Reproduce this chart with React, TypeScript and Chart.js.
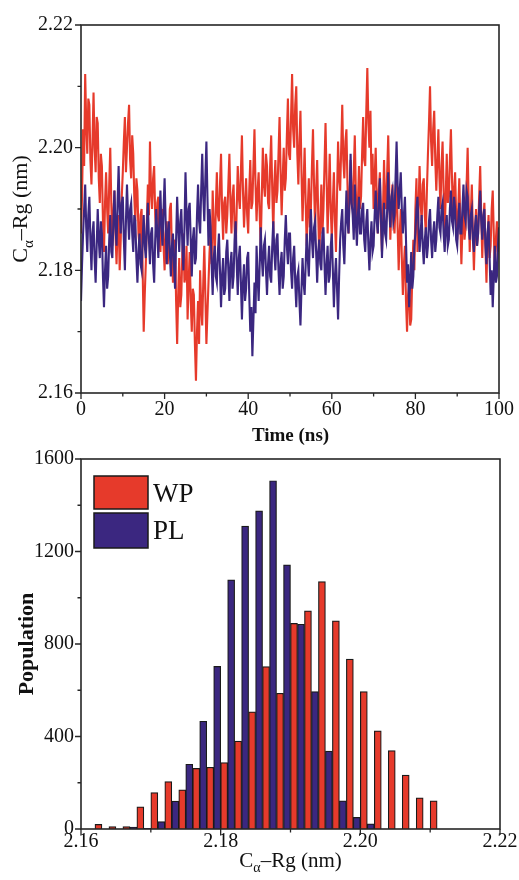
import React, { useEffect, useRef } from 'react';
import { Chart, registerables } from 'chart.js';

Chart.register(...registerables);

const FONT = '"Liberation Serif", "Times New Roman", serif';
const RED = '#e63a2b';
const BLUE = '#3b2780';
const INK = '#111111';

// ---------- Top chart: Cα–Rg vs time (sampled every 0.25 ns, 0..100 ns) ----------
const wpRg = [
  2.186, 2.192, 2.203, 2.197, 2.212, 2.204, 2.199, 2.208, 2.207, 2.198, 2.194, 2.201, 2.209, 2.200, 2.196, 2.205, 2.204, 2.195, 2.191, 2.199,
  2.197, 2.188, 2.183, 2.191, 2.196, 2.190, 2.186, 2.194, 2.200, 2.191, 2.184, 2.189, 2.193, 2.186, 2.181, 2.187, 2.189, 2.180, 2.185, 2.192,
  2.196, 2.201, 2.205, 2.196, 2.200, 2.204, 2.207, 2.198, 2.195, 2.202, 2.199, 2.192, 2.188, 2.195, 2.193, 2.186, 2.184, 2.189, 2.190, 2.180,
  2.170, 2.176, 2.181, 2.188, 2.194, 2.189, 2.201, 2.193, 2.190, 2.195, 2.197, 2.189, 2.186, 2.191, 2.192, 2.185, 2.183, 2.189, 2.190, 2.184,
  2.180, 2.186, 2.188, 2.181, 2.184, 2.190, 2.191, 2.183, 2.178, 2.184, 2.185, 2.175, 2.168, 2.176, 2.182, 2.174, 2.176, 2.183, 2.186, 2.178,
  2.179, 2.184, 2.172, 2.178, 2.183, 2.175, 2.170, 2.177, 2.176, 2.168, 2.162, 2.170, 2.175, 2.168, 2.180, 2.174, 2.171, 2.178, 2.184, 2.176,
  2.168, 2.173, 2.178, 2.183, 2.186, 2.181, 2.193, 2.187, 2.182, 2.190, 2.196, 2.189, 2.188, 2.194, 2.199, 2.190, 2.185, 2.191, 2.192, 2.186,
  2.189, 2.194, 2.199, 2.191, 2.186, 2.192, 2.194, 2.187, 2.183, 2.190, 2.197, 2.192, 2.190, 2.196, 2.202, 2.193, 2.187, 2.191, 2.195, 2.189,
  2.186, 2.193, 2.198, 2.190, 2.191, 2.197, 2.203, 2.194, 2.188, 2.193, 2.196, 2.189, 2.184, 2.192, 2.200, 2.194, 2.192, 2.199, 2.197, 2.191,
  2.190, 2.197, 2.202, 2.193, 2.186, 2.194, 2.198, 2.191, 2.193, 2.199, 2.205, 2.196, 2.189, 2.195, 2.200, 2.193, 2.195, 2.202, 2.208, 2.199,
  2.198, 2.205, 2.212, 2.203, 2.200, 2.207, 2.210, 2.199, 2.194, 2.201, 2.206, 2.196, 2.188, 2.194, 2.200, 2.191, 2.184, 2.190, 2.195, 2.187,
  2.190, 2.197, 2.203, 2.194, 2.187, 2.193, 2.198, 2.189, 2.182, 2.188, 2.194, 2.186, 2.190, 2.197, 2.204, 2.195, 2.186, 2.192, 2.199, 2.190,
  2.185, 2.191, 2.196, 2.188, 2.183, 2.192, 2.201, 2.195, 2.193, 2.200, 2.207, 2.198, 2.195, 2.201, 2.203, 2.194, 2.186, 2.192, 2.198, 2.191,
  2.190, 2.196, 2.202, 2.193, 2.186, 2.191, 2.197, 2.190, 2.192, 2.199, 2.205, 2.198, 2.197, 2.206, 2.213, 2.204, 2.200, 2.206, 2.194, 2.199,
  2.190, 2.195, 2.200, 2.192, 2.186, 2.193, 2.196, 2.188, 2.183, 2.190, 2.198, 2.191, 2.190, 2.196, 2.202, 2.193, 2.185, 2.190, 2.194, 2.188,
  2.186, 2.191, 2.195, 2.187, 2.180, 2.186, 2.190, 2.182, 2.176, 2.181, 2.184, 2.175, 2.170, 2.176, 2.178, 2.171, 2.172, 2.179, 2.185, 2.180,
  2.190, 2.195, 2.183, 2.190, 2.197, 2.191, 2.188, 2.194, 2.195, 2.189, 2.186, 2.193, 2.199, 2.204, 2.210, 2.201, 2.197, 2.203, 2.206, 2.198,
  2.193, 2.198, 2.203, 2.195, 2.190, 2.197, 2.201, 2.193, 2.186, 2.192, 2.199, 2.191, 2.192, 2.198, 2.203, 2.195, 2.188, 2.193, 2.196, 2.189,
  2.185, 2.190, 2.195, 2.188, 2.181, 2.187, 2.192, 2.185, 2.187, 2.194, 2.200, 2.191, 2.183, 2.189, 2.194, 2.186, 2.180, 2.186, 2.190, 2.184,
  2.186, 2.192, 2.197, 2.189, 2.182, 2.188, 2.191, 2.184, 2.178, 2.185, 2.189, 2.182, 2.184, 2.190, 2.193, 2.186, 2.180, 2.185, 2.188, 2.183,
  2.187,
];

const plRg = [
  2.175, 2.181, 2.186, 2.190, 2.194, 2.187, 2.183, 2.189, 2.192, 2.185, 2.180, 2.186, 2.188, 2.182, 2.178, 2.184, 2.190, 2.185, 2.182, 2.188,
  2.186, 2.179, 2.174, 2.180, 2.184, 2.177, 2.179, 2.185, 2.189, 2.183, 2.182, 2.188, 2.193, 2.187, 2.184, 2.191, 2.197, 2.190, 2.186, 2.191,
  2.192, 2.185, 2.180, 2.188, 2.194, 2.189, 2.185, 2.190, 2.191, 2.186, 2.183, 2.189, 2.188, 2.182, 2.178, 2.183, 2.186, 2.181, 2.180, 2.185,
  2.189, 2.184, 2.182, 2.187, 2.191, 2.185, 2.181, 2.186, 2.187, 2.181, 2.178, 2.185, 2.190, 2.186, 2.182, 2.188, 2.193, 2.187, 2.184, 2.190,
  2.195, 2.188, 2.181, 2.186, 2.188, 2.183, 2.179, 2.184, 2.186, 2.181, 2.177, 2.185, 2.192, 2.187, 2.183, 2.188, 2.190, 2.184, 2.180, 2.187,
  2.196, 2.189, 2.184, 2.190, 2.191, 2.185, 2.179, 2.185, 2.187, 2.181, 2.182, 2.189, 2.194, 2.188, 2.186, 2.193, 2.199, 2.192, 2.188, 2.195,
  2.201, 2.192, 2.184, 2.190, 2.187, 2.181, 2.176, 2.182, 2.184, 2.179, 2.178, 2.183, 2.186, 2.180, 2.174, 2.179, 2.182, 2.176, 2.177, 2.183,
  2.185, 2.180, 2.175, 2.181, 2.183, 2.177, 2.179, 2.185, 2.188, 2.181, 2.176, 2.182, 2.184, 2.178, 2.172, 2.178, 2.181, 2.175, 2.177, 2.182,
  2.183, 2.176, 2.170, 2.174, 2.166, 2.172, 2.178, 2.173, 2.184, 2.179, 2.175, 2.181, 2.187, 2.182, 2.179, 2.184, 2.185, 2.180, 2.176, 2.181,
  2.184, 2.179, 2.178, 2.184, 2.188, 2.183, 2.180, 2.185, 2.186, 2.180, 2.176, 2.181, 2.183, 2.177, 2.179, 2.185, 2.189, 2.184, 2.181, 2.186,
  2.186, 2.180, 2.177, 2.182, 2.184, 2.178, 2.174, 2.179, 2.180, 2.175, 2.171, 2.177, 2.182, 2.178, 2.176, 2.181, 2.186, 2.182, 2.179, 2.185,
  2.190, 2.185, 2.182, 2.187, 2.188, 2.183, 2.178, 2.183, 2.185, 2.181, 2.180, 2.186, 2.187, 2.181, 2.176, 2.181, 2.184, 2.178, 2.179, 2.184,
  2.186, 2.180, 2.174, 2.179, 2.182, 2.177, 2.172, 2.179, 2.185, 2.188, 2.190, 2.184, 2.181, 2.187, 2.193, 2.188, 2.186, 2.192, 2.199, 2.191,
  2.189, 2.185, 2.194, 2.188, 2.184, 2.189, 2.192, 2.186, 2.186, 2.190, 2.191, 2.185, 2.183, 2.188, 2.190, 2.184, 2.180, 2.185, 2.188, 2.183,
  2.184, 2.189, 2.193, 2.188, 2.186, 2.191, 2.195, 2.189, 2.182, 2.187, 2.191, 2.186, 2.185, 2.190, 2.196, 2.190, 2.187, 2.192, 2.193, 2.188,
  2.189, 2.195, 2.201, 2.194, 2.190, 2.193, 2.196, 2.190, 2.186, 2.189, 2.192, 2.185, 2.178, 2.181, 2.174, 2.178, 2.183, 2.177, 2.179, 2.184,
  2.186, 2.190, 2.192, 2.187, 2.183, 2.186, 2.189, 2.184, 2.181, 2.185, 2.187, 2.182, 2.184, 2.188, 2.190, 2.185, 2.182, 2.186, 2.188, 2.183,
  2.185, 2.189, 2.192, 2.187, 2.186, 2.190, 2.191, 2.186, 2.183, 2.187, 2.189, 2.184, 2.185, 2.190, 2.193, 2.188, 2.187, 2.192, 2.190, 2.185,
  2.184, 2.188, 2.191, 2.186, 2.186, 2.190, 2.194, 2.189, 2.188, 2.193, 2.192, 2.187, 2.185, 2.189, 2.190, 2.185, 2.183, 2.187, 2.189, 2.184,
  2.186, 2.190, 2.193, 2.188, 2.185, 2.189, 2.190, 2.184, 2.181, 2.186, 2.188, 2.182, 2.176, 2.180, 2.174, 2.179, 2.184, 2.178, 2.179, 2.184,
  2.187,
];

const timeMajorTicks = [0, 20, 40, 60, 80, 100];
const timeMinorTicks = [10, 30, 50, 70, 90];
const rgMajorTicks = [2.16, 2.18, 2.2, 2.22];
const rgMinorTicks = [2.17, 2.19, 2.21];

// ---------- Bottom chart: histogram of Cα–Rg ----------
const binCenters = [
  2.161, 2.163, 2.165, 2.167, 2.169, 2.171, 2.173, 2.175, 2.177, 2.179,
  2.181, 2.183, 2.185, 2.187, 2.189, 2.191, 2.193, 2.195, 2.197, 2.199,
  2.201, 2.203, 2.205, 2.207, 2.209, 2.211,
];
const wpCounts = [
  0, 20, 10, 10, 96, 157, 205, 169, 262, 267,
  287, 380, 507, 702, 587, 889, 943, 1070, 900, 735,
  594, 424, 339, 233, 135, 122,
];
const plCounts = [
  0, 0, 0, 8, 3, 32, 121, 280, 466, 703,
  1077, 1310, 1376, 1506, 1142, 885, 594, 337, 122, 50,
  22, 0, 0, 0, 0, 0,
];
const popMajorTicks = [0, 400, 800, 1200, 1600];
const popMinorTicks = [200, 600, 1000, 1400];
const histMajorTicks = [2.16, 2.18, 2.2, 2.22];
const histMinorTicks = [2.17, 2.19, 2.21];

const seriesLabels = ['WP', 'PL'];

type Part = { t: string; sub?: boolean };
type Title = { parts: Part[]; x: number; y: number; size: number; weight: string; rotate?: boolean };

function drawRich(ctx: CanvasRenderingContext2D, tt: Title) {
  ctx.save();
  ctx.translate(tt.x, tt.y);
  if (tt.rotate) ctx.rotate(-Math.PI / 2);
  const fontFor = (p: Part) => `${tt.weight} ${p.sub ? Math.round(tt.size * 0.68) : tt.size}px ${FONT}`;
  let total = 0;
  for (const p of tt.parts) {
    ctx.font = fontFor(p);
    total += ctx.measureText(p.t).width;
  }
  let cx = -total / 2;
  ctx.textBaseline = 'alphabetic';
  ctx.textAlign = 'left';
  ctx.fillStyle = INK;
  for (const p of tt.parts) {
    ctx.font = fontFor(p);
    ctx.fillText(p.t, cx, p.sub ? tt.size * 0.25 : 0);
    cx += ctx.measureText(p.t).width;
  }
  ctx.restore();
}

function decorPlugin(cfg: {
  xMajor: number[]; xMinor: number[]; yMajor: number[]; yMinor: number[]; titles: Title[];
  legend?: boolean;
}) {
  return {
    id: 'decor',
    afterDraw(chart: any) {
      const { ctx, chartArea: a } = chart;
      const xs = chart.scales.x;
      const ys = chart.scales.y;
      ctx.save();
      ctx.strokeStyle = '#262626';
      ctx.lineWidth = 1.6;
      ctx.strokeRect(a.left, a.top, a.right - a.left, a.bottom - a.top);
      ctx.lineWidth = 1.3;
      ctx.beginPath();
      for (const v of cfg.xMajor) {
        const p = xs.getPixelForValue(v);
        ctx.moveTo(p, a.bottom);
        ctx.lineTo(p, a.bottom + 6);
      }
      for (const v of cfg.xMinor) {
        const p = xs.getPixelForValue(v);
        ctx.moveTo(p, a.bottom);
        ctx.lineTo(p, a.bottom + 3.5);
      }
      for (const v of cfg.yMajor) {
        const p = ys.getPixelForValue(v);
        ctx.moveTo(a.left, p);
        ctx.lineTo(a.left - 6, p);
      }
      for (const v of cfg.yMinor) {
        const p = ys.getPixelForValue(v);
        ctx.moveTo(a.left, p);
        ctx.lineTo(a.left - 3.5, p);
      }
      ctx.stroke();

      if (cfg.legend) {
        let y = a.top + 17;
        chart.data.datasets.forEach((ds: any, i: number) => {
          const h = i === 0 ? 33 : 35;
          ctx.fillStyle = ds.backgroundColor;
          ctx.fillRect(a.left + 13, y, 54, h);
          ctx.strokeStyle = '#1a1a1a';
          ctx.lineWidth = 1.5;
          ctx.strokeRect(a.left + 13, y, 54, h);
          ctx.fillStyle = INK;
          ctx.font = `27px ${FONT}`;
          ctx.textAlign = 'left';
          ctx.textBaseline = 'alphabetic';
          ctx.fillText(seriesLabels[i], a.left + 72, y + 26);
          y += 37;
        });
      }
      ctx.restore();
      for (const t of cfg.titles) drawRich(ctx, t);
    },
  };
}

const setTicks = (values: number[]) => (scale: any) => {
  scale.ticks = values.map((v) => ({ value: v }));
};

const tickFont = { family: FONT, size: 20 };

const TOP_H = 452;
const BOTTOM_H = 440;

function topConfig(): any {
  return {
    type: 'line',
    data: {
      datasets: [
        {
          label: 'PL',
          data: plRg.map((y, i) => ({ x: (i * 100) / (plRg.length - 1), y })),
          borderColor: BLUE,
          borderWidth: 2.1,
          pointRadius: 0,
          tension: 0,
          order: 0,
        },
        {
          label: 'WP',
          data: wpRg.map((y, i) => ({ x: (i * 100) / (wpRg.length - 1), y })),
          borderColor: RED,
          borderWidth: 2.1,
          pointRadius: 0,
          tension: 0,
          order: 1,
        },
      ],
    },
    options: {
      responsive: false,
      animation: false,
      layout: { padding: { left: 0, right: 19, top: 25, bottom: 0 } },
      plugins: { legend: { display: false }, tooltip: { enabled: false } },
      scales: {
        x: {
          type: 'linear',
          min: 0,
          max: 100,
          afterBuildTicks: setTicks(timeMajorTicks),
          afterFit: (s: any) => { s.height = TOP_H - 393; },
          grid: { display: false, drawTicks: false },
          border: { display: false },
          ticks: { font: tickFont, color: INK, padding: 5, maxRotation: 0, autoSkip: false, callback: (v: any) => String(v) },
        },
        y: {
          type: 'linear',
          min: 2.16,
          max: 2.22,
          afterBuildTicks: setTicks(rgMajorTicks),
          afterFit: (s: any) => { s.width = 81; },
          grid: { display: false, drawTicks: false },
          border: { display: false },
          ticks: { font: tickFont, color: INK, padding: 8, autoSkip: false, callback: (v: any) => Number(v).toFixed(2) },
        },
      },
    },
    plugins: [
      decorPlugin({
        xMajor: timeMajorTicks, xMinor: timeMinorTicks, yMajor: rgMajorTicks, yMinor: rgMinorTicks,
        titles: [
          { parts: [{ t: 'C' }, { t: 'α', sub: true }, { t: '–Rg (nm)' }], x: 27, y: 209, size: 22, weight: 'normal', rotate: true },
          { parts: [{ t: 'Time (ns)' }], x: 290.5, y: 441, size: 19, weight: 'bold' },
        ],
      }),
    ],
  };
}

function bottomConfig(): any {
  return {
    type: 'bar',
    data: {
      datasets: [
        {
          label: 'WP',
          data: binCenters.map((x, i) => ({ x, y: wpCounts[i] })),
          backgroundColor: RED,
          borderColor: '#1a1a1a',
          borderWidth: 1.2,
          borderSkipped: 'start',
          barPercentage: 1,
          categoryPercentage: 1,
        },
        {
          label: 'PL',
          data: binCenters.map((x, i) => ({ x, y: plCounts[i] })),
          backgroundColor: BLUE,
          borderColor: '#1a1a1a',
          borderWidth: 1.2,
          borderSkipped: 'start',
          barPercentage: 1,
          categoryPercentage: 1,
        },
      ],
    },
    options: {
      responsive: false,
      animation: false,
      layout: { padding: { left: 0, right: 19, top: 19, bottom: 0 } },
      plugins: { legend: { display: false }, tooltip: { enabled: false } },
      scales: {
        x: {
          type: 'linear',
          min: 2.16,
          max: 2.22,
          offset: false,
          afterBuildTicks: setTicks(histMajorTicks),
          afterFit: (s: any) => { s.height = 51; },
          grid: { display: false, drawTicks: false, offset: false },
          border: { display: false },
          ticks: { font: tickFont, color: INK, padding: 1, maxRotation: 0, autoSkip: false, callback: (v: any) => Number(v).toFixed(2) },
        },
        y: {
          type: 'linear',
          min: 0,
          max: 1600,
          afterBuildTicks: setTicks(popMajorTicks),
          afterFit: (s: any) => { s.width = 81; },
          grid: { display: false, drawTicks: false },
          border: { display: false },
          ticks: { font: tickFont, color: INK, padding: 7, autoSkip: false, callback: (v: any) => String(v) },
        },
      },
    },
    plugins: [
      decorPlugin({
        xMajor: histMajorTicks, xMinor: histMinorTicks, yMajor: popMajorTicks, yMinor: popMinorTicks,
        legend: true,
        titles: [
          { parts: [{ t: 'Population' }], x: 33, y: 204, size: 22, weight: 'bold', rotate: true },
          { parts: [{ t: 'C' }, { t: 'α', sub: true }, { t: '–Rg (nm)' }], x: 290.5, y: 427, size: 21, weight: 'normal' },
        ],
      }),
    ],
  };
}

function ChartBox({ make, top, height }: { make: () => any; top: number; height: number }) {
  const ref = useRef<HTMLCanvasElement | null>(null);
  useEffect(() => {
    if (!ref.current) return;
    const chart = new Chart(ref.current, make());
    return () => chart.destroy();
  }, [make]);
  return (
    <div style={{ position: 'absolute', left: 0, top, width: 519, height }}>
      <canvas ref={ref} width={519} height={height} style={{ display: 'block', width: 519, height }} />
    </div>
  );
}

export default function App() {
  return (
    <div style={{ position: 'absolute', left: 0, top: 0, width: 519, height: 880, background: '#ffffff' }}>
      <ChartBox make={topConfig} top={0} height={TOP_H} />
      <ChartBox make={bottomConfig} top={440} height={BOTTOM_H} />
    </div>
  );
}
